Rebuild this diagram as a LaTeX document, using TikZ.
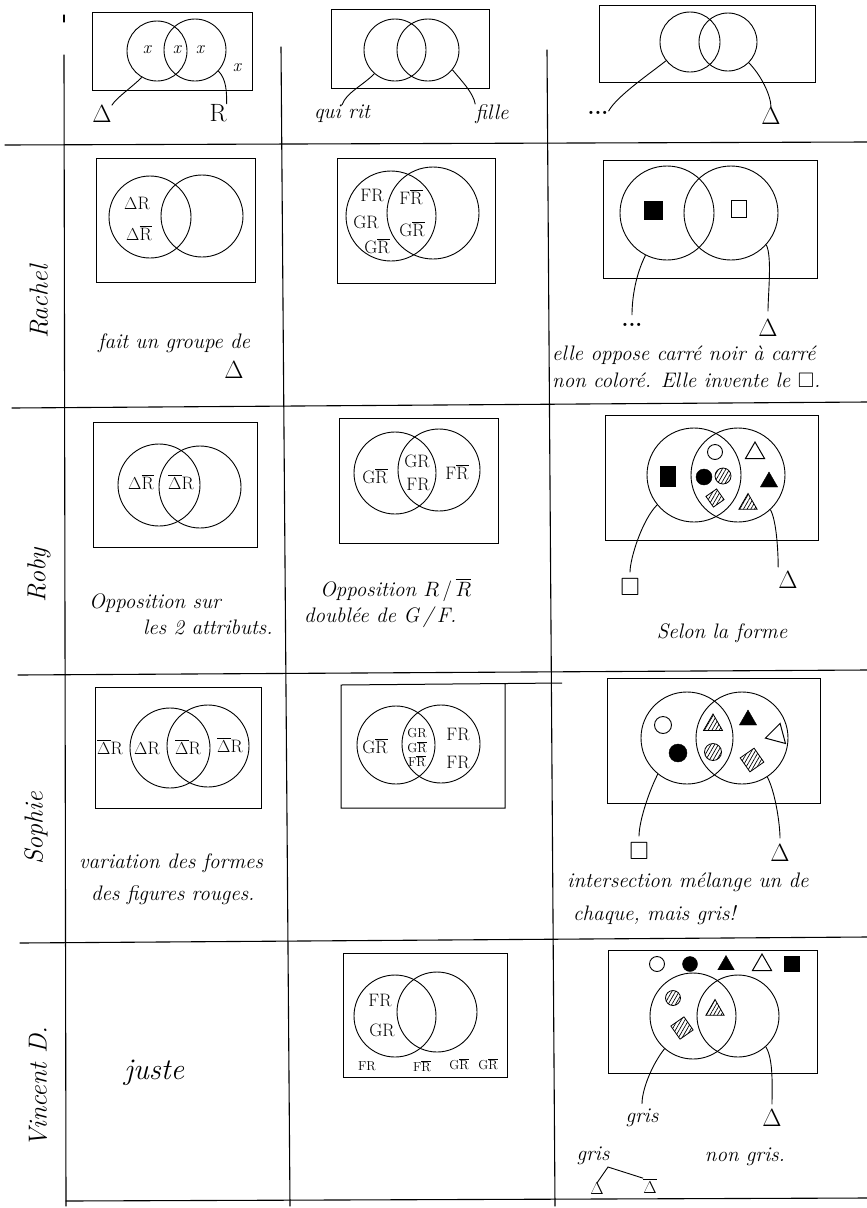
\documentclass[tikz,border=0pt]{standalone}
\usepackage{fontspec}
\usepackage{amssymb}
\usetikzlibrary{shapes.geometric,patterns.meta}
\newcommand\xR{\ensuremath{\overline{\mathrm{R}}}}
\newcommand\xD{\ensuremath{\overline{\Delta}}}
\tikzset{
  gline/.style={line width=1.1pt,line cap=round},
  box/.style={draw,line width=1pt},
  vc/.style={circle,draw,line width=0.9pt,inner sep=0pt,minimum size=#1},
  lab/.style={font=\fontsize{18}{18}\selectfont,inner sep=0pt},
  tlab/.style={font=\fontsize{13}{13}\selectfont,inner sep=0pt},
  note/.style={font=\fontsize{21}{24}\selectfont\itshape,inner sep=0pt},
  dots/.style={font=\fontsize{22}{22}\selectfont\bfseries,inner sep=0pt},
  who/.style={font=\fontsize{26}{26}\selectfont\itshape,rotate=90,inner sep=0pt},
  link/.style={line width=0.9pt},
  endsym/.style={font=\fontsize{25}{25}\selectfont,inner sep=0pt},
  hatch/.style={pattern={Lines[angle=60,distance=3.2pt,line width=0.7pt]}},
  osq/.style={rectangle,draw,line width=0.9pt,inner sep=0pt,minimum size=#1},
  fsq/.style={rectangle,draw,fill=black,inner sep=0pt,minimum size=#1},
  hsq/.style={rectangle,draw,line width=0.8pt,hatch,inner sep=0pt,minimum size=#1,rotate=35},
  odot/.style={circle,draw,line width=0.9pt,inner sep=0pt,minimum size=#1},
  fdot/.style={circle,draw,fill=black,inner sep=0pt,minimum size=#1},
  hdot/.style={circle,draw,line width=0.8pt,hatch,inner sep=0pt,minimum size=#1},
  otr/.style={regular polygon,regular polygon sides=3,draw,line width=1pt,inner sep=0pt,minimum size=#1},
  ftr/.style={regular polygon,regular polygon sides=3,draw,fill=black,inner sep=0pt,minimum size=#1},
  htr/.style={regular polygon,regular polygon sides=3,draw,line width=0.8pt,hatch,inner sep=0pt,minimum size=#1},
}
\begin{document}
\begin{tikzpicture}[x=1pt,y=-1pt]
\useasboundingbox (0,0) rectangle (867,1208);
\fill[white] (0,0) rectangle (867,1208);
% ---------- grid ----------
\draw[gline] (64,15) -- (64,22);
\draw[gline] (64,55) -- (66,1206);
\draw[gline] (281,47) -- (290,1206);
\draw[gline] (547,50) -- (555,1206);
\draw[gline] (5,145) -- (867,142);
\draw[gline] (12,408) -- (867,402);
\draw[gline] (18,675) -- (867,670);
\draw[gline] (20,943) -- (867,937);
\draw[gline] (66,1201) -- (867,1198);
% ---------- names ----------
\node[who] (nRachel) at (39,302) {Rachel};
\node[who] (nRoby) at (39,575) {Roby};
\node[who] (nSophie) at (36,828) {Sophie};
\node[who] (nVincent) at (38,1087) {Vincent D.};
% ---------- header col 1 ----------
\draw[box] (92,12) rectangle (252,90);
\node[vc=60] (h1a) at (157,51) {};
\node[vc=62] (h1b) at (195,50) {};
\node[lab] (h1x1) at (147,50) {\itshape x};
\node[lab] (h1x2) at (177,50) {\itshape x};
\node[lab] (h1x3) at (200,50) {\itshape x};
\node[lab] (h1x4) at (237,68) {\itshape x};
\node[endsym] (h1d) at (102,114) {$\Delta$};
\node[endsym] (h1r) at (218,113) {R};
\draw[link] (h1a.240) .. controls +(-10,10) and +(5,-8) .. (h1d.north east);
\draw[link] (h1b.318) .. controls +(8,8) and +(0,-12) .. (h1r.north east);
% ---------- header col 2 ----------
\draw[box] (331,9) rectangle (489,88);
\node[vc=62] (h2a) at (395,50) {};
\node[vc=62] (h2b) at (428,50) {};
\node[note] (h2q) at (342,114) {qui rit};
\node[note] (h2f) at (492,114) {fille};
\draw[link] (h2a.229) .. controls +(-12,12) and +(4,-12) .. (h2q.north);
\draw[link] (h2b.-39) .. controls +(8,10) and +(-2,-12) .. (h2f.north west);
% ---------- header col 3 ----------
\draw[box] (599,5) rectangle (815,82);
\node[vc=60] (h3a) at (690,42) {};
\node[vc=58] (h3b) at (728,42) {};
\node[dots] (h3dots) at (598,113) {...};
\node[endsym] (h3d) at (771,116) {$\Delta$};
\draw[link] (h3a.218) .. controls +(-15,12) and +(8,-15) .. (h3dots.north east);
\draw[link] (h3b.-45) .. controls +(12,12) and +(0,-12) .. (h3d.north);
% ---------- Rachel ----------
\draw[box] (96,158) rectangle (255,282);
\node[vc=82] (r1a) at (150,217) {};
\node[vc=82] (r1b) at (202,216) {};
\node[lab] (r1l1) at (137,203) {$\Delta$R};
\node[lab] (r1l2) at (139,233) {$\Delta$\xR};
\node[note,anchor=west] (r1t) at (98,343) {fait un groupe de};
\node[endsym] (r1d) at (234,370) {$\Delta$};
\draw[box] (337,158) rectangle (495,283);
\node[vc=90] (r2a) at (391,216) {};
\node[vc=92] (r2b) at (433,213) {};
\node[lab] (r2l1) at (372,195) {FR};
\node[lab] (r2l2) at (411,197) {F\xR};
\node[lab] (r2l3) at (366,222) {GR};
\node[lab] (r2l4) at (377,246) {G\xR};
\node[lab] (r2l5) at (412,229) {G\xR};
\draw[box] (603,160) rectangle (817,278);
\node[vc=94] (r3a) at (667,213) {};
\node[vc=94] (r3b) at (731,213) {};
\node[fsq=18] (r3s1) at (653,210) {};
\node[osq=15,minimum height=17] (r3s2) at (739,209) {};
\node[dots] (r3dots) at (632,325) {...};
\node[endsym] (r3d) at (768,328) {$\Delta$};
\draw[link,shorten >=8pt] (r3a.243) .. controls +(-10,20) and +(0,-25) .. (r3dots.north);
\draw[link,shorten >=8pt] (r3b.-42) .. controls +(6,12) and +(0,-25) .. (r3d.north);
\node[note,anchor=west] (r3t1) at (552,355) {elle oppose carré noir à carré};
\node[note,anchor=west] (r3t2) at (552,380) {non coloré. Elle invente le $\square$.};
% ---------- Roby ----------
\draw[box] (93,422) rectangle (257,547);
\node[vc=82] (b1a) at (159,485) {};
\node[vc=82] (b1b) at (200,487) {};
\node[lab] (b1l1) at (141,482) {$\Delta$\xR};
\node[lab] (b1l2) at (181,482) {\xD R};
\node[note,anchor=west] (b1t1) at (89,603) {Opposition sur};
\node[note,anchor=west] (b1t2) at (143,627) {les 2 attributs.};
\draw[box] (339,418) rectangle (498,543);
\node[vc=82] (b2a) at (395,473) {};
\node[vc=82] (b2b) at (439,470) {};
\node[lab] (b2l1) at (375,476) {G\xR};
\node[lab] (b2l2) at (417,461) {GR};
\node[lab] (b2l3) at (418,484) {FR};
\node[lab] (b2l4) at (457,472) {F\xR};
\node[note,anchor=west] (b2t1) at (320,590) {Opposition $R\,/\,\overline{R}$};
\node[note,anchor=west] (b2t2) at (304,617) {doublée de G\,/\,F.};
\draw[box] (605,415) rectangle (818,540);
\node[vc=94] (b3a) at (694,475) {};
\node[vc=94] (b3b) at (738,475) {};
\node[fsq=15,minimum height=20] (b3s1) at (668,476) {};
\node[odot=15] (b3s2) at (715,452) {};
\node[fdot=16] (b3s3) at (704,477) {};
\node[hdot=16] (b3s4) at (723,476) {};
\node[hsq=13] (b3s5) at (715,498) {};
\node[otr=22] (b3s6) at (755,453) {};
\node[ftr=20] (b3s7) at (769,482) {};
\node[htr=21] (b3s8) at (748,504) {};
\node[endsym] (b3q) at (630,587) {$\square$};
\node[endsym] (b3d) at (788,580) {$\Delta$};
\draw[link,shorten >=6pt] (b3a.219) .. controls +(-15,15) and +(0,-20) .. (b3q.north);
\draw[link,shorten >=4pt] (b3b.-47) .. controls +(6,10) and +(0,-20) .. (b3d.north west);
\node[note] (b3t) at (722,633) {Selon la forme};
% ---------- Sophie ----------
\draw[box] (95,687) rectangle (261,808);
\node[vc=80] (s1a) at (170,748) {};
\node[vc=82] (s1b) at (208,746) {};
\node[lab] (s1l1) at (110,747) {\xD R};
\node[lab] (s1l2) at (147,748) {$\Delta$R};
\node[lab] (s1l3) at (188,747) {\xD R};
\node[lab] (s1l4) at (230,745) {\xD R};
\node[note,anchor=west] (s1t1) at (79,863) {variation des formes};
\node[note,anchor=west] (s1t2) at (91,895) {des figures rouges.};
\draw[box] (562,683) -- (341,685) -- (341,808) -- (505,808) -- (505,684);
\node[vc=78] (s2a) at (396,745) {};
\node[vc=78] (s2b) at (441,744) {};
\node[lab] (s2l1) at (375,746) {G\xR};
\node[tlab] (s2l2) at (417,733) {GR};
\node[tlab] (s2l3) at (417,747) {G\xR};
\node[tlab] (s2l4) at (417,761) {F\xR};
\node[lab] (s2l5) at (458,734) {FR};
\node[lab] (s2l6) at (458,762) {FR};
\draw[box] (607,678) rectangle (820,803);
\node[vc=92] (s3a) at (687,738) {};
\node[vc=92] (s3b) at (742,738) {};
\node[odot=17] (s3s1) at (663,725) {};
\node[fdot=18] (s3s2) at (678,753) {};
\node[htr=22] (s3s3) at (713,725) {};
\node[hdot=17] (s3s4) at (713,752) {};
\node[ftr=20] (s3s5) at (748,720) {};
\node[otr=24,rotate=-15] (s3s6) at (777,735) {};
\node[hsq=17] (s3s7) at (752,760) {};
\node[endsym] (s3q) at (639,851) {$\square$};
\node[endsym] (s3d) at (780,853) {$\Delta$};
\draw[link,shorten >=6pt] (s3a.231) .. controls +(-10,20) and +(0,-20) .. (s3q.north);
\draw[link,shorten >=6pt] (s3b.-57) .. controls +(8,15) and +(0,-20) .. (s3d.north);
\node[note,anchor=west] (s3t1) at (567,882) {intersection mélange un de};
\node[note,anchor=west] (s3t2) at (573,915) {chaque, mais gris!};
% ---------- Vincent D. ----------
\node[note,font=\fontsize{30}{30}\selectfont\itshape] (v1t) at (154,1073) {juste};
\draw[box] (343,953) rectangle (507,1077);
\node[vc=82] (v2a) at (395,1016) {};
\node[vc=80] (v2b) at (437,1012) {};
\node[lab] (v2l1) at (380,1000) {FR};
\node[lab] (v2l2) at (382,1030) {GR};
\node[tlab] (v2l3) at (367,1066) {FR};
\node[tlab] (v2l4) at (422,1066) {F\xR};
\node[tlab] (v2l5) at (459,1064) {G\xR};
\node[tlab] (v2l6) at (488,1064) {G\xR};
\draw[box] (608,950) rectangle (817,1073);
\node[odot=15] (v3t1) at (657,964) {};
\node[fdot=15] (v3t2) at (690,964) {};
\node[ftr=19] (v3t3) at (726,965) {};
\node[otr=22] (v3t4) at (762,965) {};
\node[fsq=15] (v3t5) at (792,964) {};
\node[vc=86] (v3a) at (693,1016) {};
\node[vc=82] (v3b) at (738,1016) {};
\node[hdot=15] (v3s1) at (673,998) {};
\node[hsq=16] (v3s2) at (682,1028) {};
\node[htr=21] (v3s3) at (715,1010) {};
\node[note] (v3g) at (642,1118) {gris};
\node[endsym] (v3d) at (772,1118) {$\Delta$};
\draw[link,shorten >=5pt] (v3a.229) .. controls +(-12,15) and +(0,-20) .. (v3g.north);
\draw[link,shorten >=5pt] (v3b.-48) .. controls +(8,12) and +(0,-20) .. (v3d.north);
\node[note] (v3g2) at (593,1156) {gris};
\node[note] (v3ng) at (745,1157) {non gris.};
\node[endsym,font=\fontsize{17}{17}\selectfont] (v3e1) at (597,1189) {$\Delta$};
\node[endsym,font=\fontsize{17}{17}\selectfont] (v3e2) at (650,1186) {$\overline{\Delta}$};
\coordinate (v3k) at (608,1167);
\draw[link] (v3e1.north) -- (v3k) -- (v3e2.north west);
\end{tikzpicture}
\end{document}
